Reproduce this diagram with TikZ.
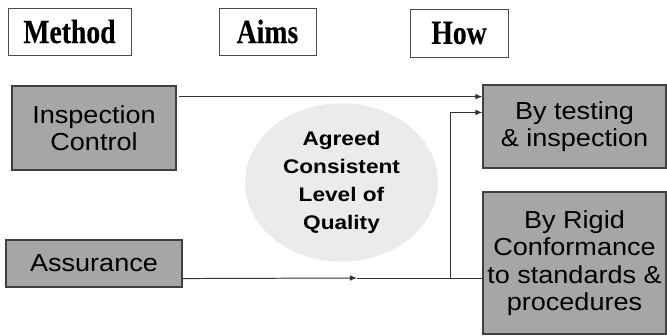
\documentclass[tikz,border=0pt]{standalone}
\usepackage{fontspec}
\setmainfont{Liberation Serif}
\setsansfont{Liberation Sans}
\newfontfamily\headfont[FakeStretch=0.82,FakeBold=0.3]{Liberation Serif Bold}
\newfontfamily\boxfont[FakeStretch=1.1]{Liberation Sans}
\newfontfamily\aimfont[FakeStretch=1.15]{Liberation Sans Bold}
\usetikzlibrary{shapes.geometric,arrows.meta}

\begin{document}
\begin{tikzpicture}[
		head/.style={draw=black!70, fill=white, line width=0.6pt, minimum height=1.175cm, font=\headfont\fontsize{24}{26}\selectfont},
		way/.style={draw=black!75, fill=black!35, line width=0.8pt, align=center, inner sep=0pt, font=\boxfont\fontsize{17.5}{19.5}\selectfont},
		flow/.style={-{Latex[length=5pt,width=4pt]}, black!80, line width=0.7pt}]
			\useasboundingbox (0,0) rectangle (16.675,8.4);
			
			% column titles
			\node[head, minimum width=3.075cm] (method) at (1.7375,7.6125) {Method};
			\node[head, minimum width=2.425cm] (aims) at (6.6875,7.6125) {Aims};
			\node[head, minimum width=2.45cm, minimum height=1.2cm] (how) at (11.475,7.575) {How};
			
			% methods on the left, ways on the right
			\node[way, minimum width=4.1cm, minimum height=2.1cm] (insp) at (2.35,5.2) {Inspection\\Control};
			\node[way, minimum width=4.4cm, minimum height=1.175cm] (assur) at (2.35,1.8125) {Assurance};
			\node[way, minimum width=4.575cm, minimum height=2.075cm] (test) at (14.3625,5.2375) {By testing\\\& inspection};
			\node[way, minimum width=4.575cm, minimum height=3.55cm] (rigid) at (14.3625,1.825) {By Rigid\\Conformance\\to standards \&\\procedures};
			
			\node[ellipse, fill=black!8, minimum width=4.825cm, minimum height=3.525cm, align=center, font=\aimfont\fontsize{14}{20}\selectfont] (goal) at (8.5375,3.8375) {Agreed\\Consistent\\Level of\\Quality};
			
			% connectors
			\coordinate (in1) at ([xshift=2pt,yshift=-0.28cm]insp.north east);
			\coordinate (mid) at (8.925,1.45);
			\coordinate (split) at (11.25,1.45);
			\draw[flow] (in1) -- (in1 -| test.west);
			\draw[flow] ([yshift=0.225cm]assur.south east) -- (mid);
			\draw[black!80, line width=0.7pt] (mid) -- (mid -| rigid.west);
			\draw[flow] (split) |- ([yshift=-0.7cm]test.north west);
		\end{tikzpicture}
\end{document}
